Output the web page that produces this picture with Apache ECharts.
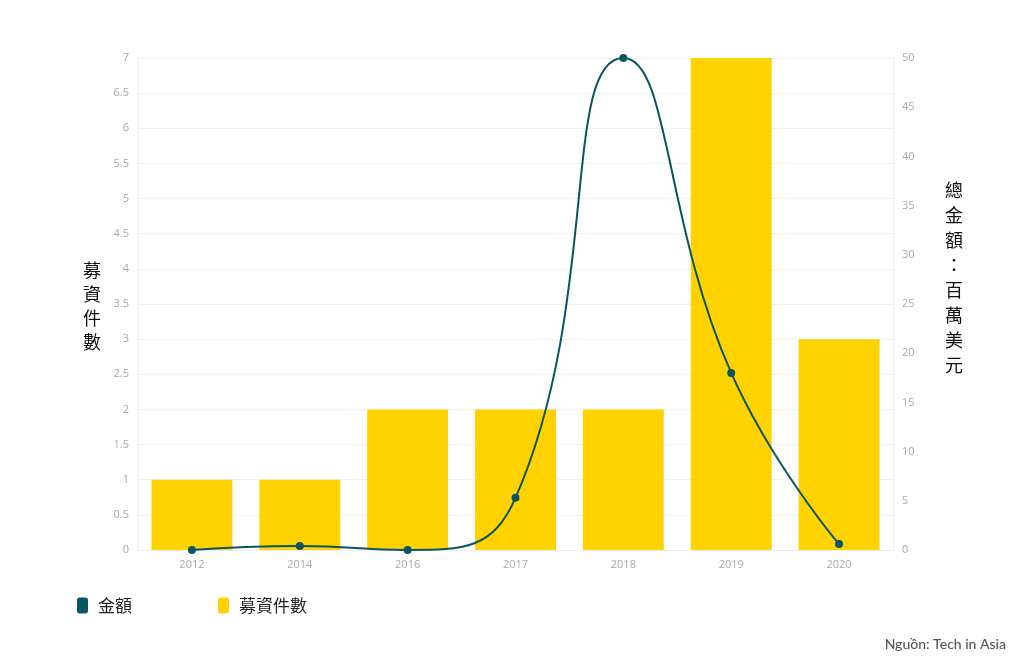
<!DOCTYPE html>
<html><head><meta charset="utf-8">
<script src="https://cdn.jsdelivr.net/npm/echarts@6/dist/echarts.min.js"></script>
<style>html,body{margin:0;padding:0;background:#fff}#c{width:1024px;height:667px}</style>
</head><body><div id="c"></div>
<script>
var years = ['2012','2014','2016','2017','2018','2019','2020'];
var dealCounts = [1, 1, 2, 2, 2, 7, 3];
var amounts = [0, 0.4, 0, 5.3, 50, 18, 0.6];
var leftTicks = {min: 0, max: 7, interval: 0.5};
var rightTicks = {min: 0, max: 50, interval: 5};

var chart = echarts.init(document.getElementById('c'), null, {renderer: 'canvas'});
var lbl = {color: '#a8a8a8', fontSize: 11, fontFamily: 'Open Sans'};
chart.setOption({
  animation: false,
  grid: {left: 138, right: 131, top: 58, bottom: 117, containLabel: false},
  legend: {
    left: 72, top: 592, itemGap: 86, itemWidth: 11, itemHeight: 16,
    textStyle: {fontSize: 17, color: '#222', fontFamily: 'Noto Sans CJK TC', padding: [0, 0, 0, 5]},
    data: [{name: '金額', icon: 'roundRect', itemStyle: {color: '#0b5560'}},
           {name: '募資件數', icon: 'roundRect', itemStyle: {color: '#ffd200'}}]
  },
  graphic: [
    {type: 'text', left: 83, top: 258, style: {text: '募\n資\n件\n數', fontSize: 18, lineHeight: 24, fill: '#111', fontFamily: 'Noto Sans CJK TC'}},
    {type: 'text', left: 945, top: 178, style: {text: '總\n金\n額\n：\n百\n萬\n美\n元', fontSize: 18, lineHeight: 25, fill: '#111', fontFamily: 'Noto Sans CJK TC'}},
    {type: 'text', right: 18, top: 637, style: {text: 'Nguồn: Tech in Asia', fontSize: 14, fontWeight: 500, fill: '#555', fontFamily: 'Lato'}}
  ],
  xAxis: {
    type: 'category', data: years,
    axisLine: {lineStyle: {color: '#eeeeee'}}, axisTick: {show: false},
    axisLabel: Object.assign({margin: 9}, lbl)
  },
  yAxis: [
    {type: 'value', min: leftTicks.min, max: leftTicks.max, interval: leftTicks.interval,
     axisLine: {show: true, lineStyle: {color: '#eeeeee'}}, axisTick: {show: false},
     splitLine: {lineStyle: {color: '#f0f0f0'}}, axisLabel: Object.assign({margin: 9}, lbl)},
    {type: 'value', min: rightTicks.min, max: rightTicks.max, interval: rightTicks.interval,
     axisLine: {show: true, lineStyle: {color: '#eeeeee'}}, axisTick: {show: false},
     splitLine: {show: false}, axisLabel: Object.assign({margin: 9}, lbl)}
  ],
  series: [
    {name: '募資件數', type: 'bar', yAxisIndex: 0, data: dealCounts, barWidth: '75%',
     itemStyle: {color: '#ffd200'}, z: 1},
    {name: '金額', type: 'line', yAxisIndex: 1, data: amounts, smooth: 0.5,
     symbol: 'circle', symbolSize: 8, lineStyle: {color: '#0b5560', width: 2},
     itemStyle: {color: '#0b5560'}, z: 3}
  ]
});
</script></body></html>
